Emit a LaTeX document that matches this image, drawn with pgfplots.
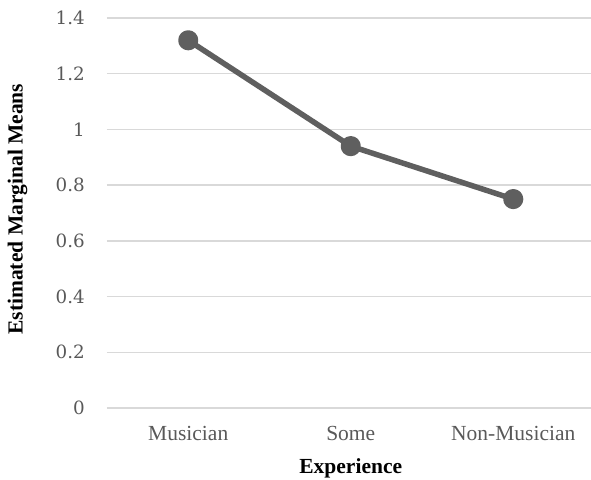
\documentclass[border=0pt]{standalone}
\usepackage{pgfplots}
\pgfplotsset{compat=1.18}
\usepackage{fontspec}
\setmainfont{Liberation Serif}
\newfontfamily\dvs{DejaVu Serif}
\definecolor{linegray}{HTML}{5F5F5F}
\definecolor{textgray}{HTML}{595959}
\definecolor{gridgray}{HTML}{D9D9D9}
\begin{document}
\begin{tikzpicture}
\useasboundingbox (-107pt,-71pt) rectangle (484pt,408pt);
\begin{axis}[
  at={(0pt,0pt)}, anchor=south west,
  scale only axis, width=487.5pt, height=390pt,
  xmin=-0.5, xmax=2.5, ymin=0, ymax=1.4,
  xtick={0,1,2}, xticklabels={Musician,Some,Non-Musician},
  ytick={0,0.2,0.4,0.6,0.8,1,1.2,1.4},
  yticklabels={0,0.2,0.4,0.6,0.8,1,1.2,1.4},
  axis line style={draw=none},
  major tick length=0pt,
  ymajorgrids, grid style={color=gridgray, line width=1.4pt},
  /pgf/number format/assume math mode=true,
  yticklabel style={anchor=east, inner sep=0pt, xshift=-22pt, text=textgray,
    font=\dvs\fontsize{18.3}{20}\selectfont},
  xticklabel style={anchor=base, inner sep=0pt, yshift=-32pt, text=textgray,
    font=\fontsize{21.5}{24}\selectfont},
  xlabel={Experience},
  ylabel={Estimated Marginal Means},
  xlabel style={at={(axis description cs:0.5,0)}, anchor=base, inner sep=0pt, yshift=-65pt,
    font=\bfseries\fontsize{21.5}{24}\selectfont},
  ylabel style={at={(axis description cs:-0.1836,0.51)}, anchor=center, rotate=0, inner sep=0pt,
    font=\bfseries\fontsize{21.5}{24}\selectfont},
  clip=false,
]
\addplot[color=linegray, line width=5.5pt, line join=round, mark=*, mark size=7.3pt,
  mark options={draw=none, fill=linegray}] coordinates {(0,1.32) (1,0.94) (2,0.75)};
\end{axis}
\end{tikzpicture}
\end{document}
